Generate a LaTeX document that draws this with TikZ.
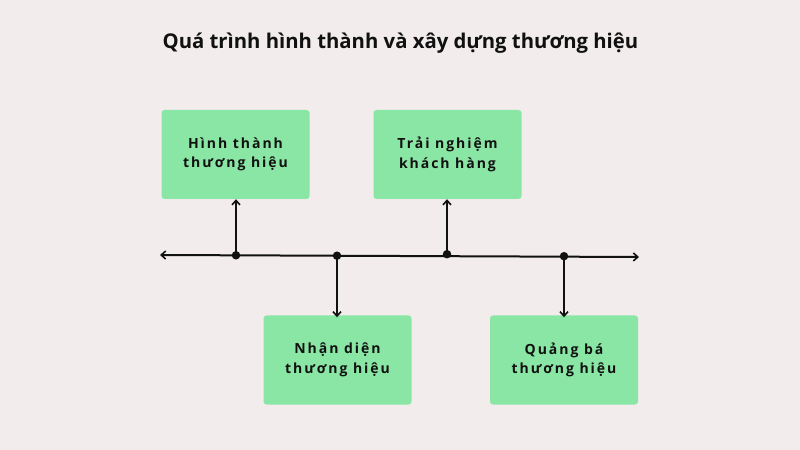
\documentclass[tikz,border=0pt]{standalone}
\usepackage{fontspec}
\setmainfont{Open Sans}
\newfontfamily\boxfont[LetterSpace=14]{Open Sans}
\usetikzlibrary{arrows.meta}
\definecolor{bgc}{HTML}{F2ECEC}
\definecolor{boxc}{HTML}{8AE6A4}
\definecolor{inkc}{HTML}{111111}
\tikzset{
  stagebox/.style={fill=boxc, rounded corners=3bp, minimum width=148bp, minimum height=89bp,
    inner sep=0pt, align=center, text=inkc, font=\boxfont\bfseries\fontsize{14bp}{19.5bp}\selectfont},
  tl/.style={line width=2bp, draw=inkc},
  tip/.style={-{Straight Barb[length=4.5bp,width=8bp,line width=1.6bp]}},
  dotc/.style={circle, fill=inkc, inner sep=0pt, minimum size=8.5bp}
}
\begin{document}
\begin{tikzpicture}[x=1bp,y=-1bp]
\fill[bgc] (0,0) rectangle (800,450);
\useasboundingbox (0,0) rectangle (800,450);
\node[font=\bfseries\fontsize{20.3bp}{24bp}\selectfont, text=inkc] (title) at (400.5,43) {Quá trình hình thành và xây dựng thương hiệu};
\node[stagebox] (b1) at (235.5,154.5) {Hình thành\\thương hiệu};
\node[stagebox] (b2) at (447.5,154.5) {Trải nghiệm\\khách hàng};
\node[stagebox] (b3) at (337.5,360) {Nhận diện\\thương hiệu};
\node[stagebox] (b4) at (564,360) {Quảng bá\\thương hiệu};
\coordinate (L) at (160,255);
\coordinate (R) at (639,257);
\draw[tl, {Straight Barb[length=4.5bp,width=8bp,line width=1.6bp]}-{Straight Barb[length=4.5bp,width=8bp,line width=1.6bp]}] (L) -- (R);
\node[dotc] (d1) at (236,255.3) {};
\node[dotc] (d2) at (337,255.7) {};
\node[dotc] (d3) at (447,254.2) {};
\node[dotc] (d4) at (564,256.2) {};
\draw[tl, tip] (d1.center) -- (d1.center |- b1.south);
\draw[tl, tip] (d3.center) -- (d3.center |- b2.south);
\draw[tl, tip] (d2.center) -- ([yshift=-2bp]d2.center |- b3.north);
\draw[tl, tip] (d4.center) -- ([yshift=-2bp]d4.center |- b4.north);
\end{tikzpicture}
\end{document}
